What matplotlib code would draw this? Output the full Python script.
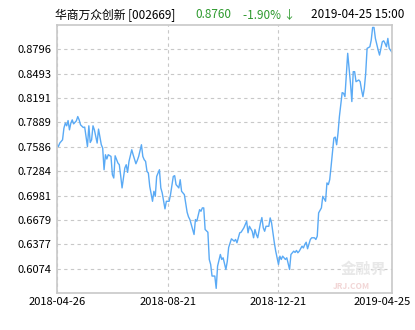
import matplotlib
matplotlib.use("Agg")
import matplotlib.pyplot as plt
import matplotlib.transforms as mtransforms

# trading-day index and fund NAV
day = [0, 1, 2, 4, 5, 6, 7, 8, 9, 10, 11, 12, 14, 15, 16, 17, 19, 20, 22, 23,
       24, 25, 26, 27, 29, 30, 32, 33, 34, 35, 36, 37, 39, 40, 41, 42, 44, 45, 46, 47,
       49, 50, 51, 52, 54, 55, 57, 58, 59, 61, 62, 63, 64, 65, 66, 67, 69, 70, 71, 72,
       74, 75, 76, 78, 79, 81, 82, 84, 85, 86, 88, 89, 90, 92, 94, 95, 96, 98, 99, 100,
       101, 103, 104, 105, 106, 107, 109, 110, 111, 112, 114, 115, 116, 118, 119, 120, 122, 123, 124, 126,
       128, 129, 130, 132, 133, 135, 137, 138, 139, 141, 142, 143, 144, 145, 147, 148, 149, 150, 151, 153,
       154, 155, 156, 157, 158, 160, 161, 162, 163, 165, 166, 168, 169, 171, 172, 173, 174, 175, 177, 178,
       179, 180, 181, 183, 184, 186, 187, 188, 189, 191, 192, 194, 195, 196, 197, 198, 200, 201, 202, 203,
       204, 206, 207, 208, 209, 210, 212, 213, 214, 215, 216, 218, 219, 220, 221, 222, 223, 224, 226, 227,
       228, 229, 230, 232, 233, 234, 235, 236, 237, 238, 239, 240, 242]
nav = [0.7612, 0.7590, 0.7633, 0.7673, 0.7818, 0.7880, 0.7847, 0.7912, 0.7797, 0.7880,
       0.7921, 0.7871, 0.7909, 0.7962, 0.7921, 0.7859, 0.7826, 0.7831, 0.7590, 0.7847,
       0.7640, 0.7673, 0.7847, 0.7797, 0.7633, 0.7806, 0.7612, 0.7571, 0.7302, 0.7488,
       0.7435, 0.7488, 0.7467, 0.7240, 0.7199, 0.7475, 0.7385, 0.7364, 0.7228, 0.7076,
       0.7323, 0.7364, 0.7269, 0.7405, 0.7550, 0.7488, 0.7376, 0.7417, 0.7467, 0.7612,
       0.7467, 0.7426, 0.7405, 0.7281, 0.7261, 0.7095, 0.6910, 0.7034, 0.6972, 0.7219,
       0.7302, 0.7076, 0.7014, 0.6816, 0.6910, 0.6910, 0.6993, 0.7219, 0.7228, 0.7117,
       0.7076, 0.7178, 0.7034, 0.6993, 0.6774, 0.6717, 0.6683, 0.6560, 0.6498, 0.6683,
       0.6662, 0.6807, 0.6786, 0.6828, 0.6828, 0.6560, 0.6526, 0.6188, 0.6126, 0.5982,
       0.5982, 0.5829, 0.6105, 0.6250, 0.6188, 0.6209, 0.6064, 0.6163, 0.6337, 0.6444,
       0.6415, 0.6436, 0.6395, 0.6519, 0.6526, 0.6581, 0.6662, 0.6519, 0.6600, 0.6538,
       0.6457, 0.6560, 0.6498, 0.6457, 0.6642, 0.6708, 0.6581, 0.6538, 0.6600, 0.6600,
       0.6704, 0.6642, 0.6519, 0.6395, 0.6291, 0.6126, 0.6229, 0.6188, 0.6229, 0.6188,
       0.6209, 0.6064, 0.6250, 0.6291, 0.6275, 0.6300, 0.6271, 0.6291, 0.6353, 0.6331,
       0.6374, 0.6402, 0.6321, 0.6436, 0.6457, 0.6457, 0.6436, 0.6477, 0.6766, 0.6828,
       0.6972, 0.6910, 0.7138, 0.7117, 0.7178, 0.7343, 0.7695, 0.7707, 0.7612, 0.7756,
       0.7962, 0.8259, 0.8251, 0.8209, 0.8478, 0.8747, 0.8375, 0.8148, 0.8519, 0.8519,
       0.8395, 0.8416, 0.8395, 0.8292, 0.8209, 0.8313, 0.8499, 0.8808, 0.8828, 0.8911,
       0.9068, 0.9068, 0.8932, 0.8787, 0.8725, 0.8808, 0.8890, 0.8902, 0.8870, 0.8828,
       0.8932, 0.8808, 0.8760]

y_min, y_max = 0.57716, 0.90984
y_ticks = [0.6074, 0.6377, 0.6679, 0.6981, 0.7284, 0.7586, 0.7889, 0.8191, 0.8493, 0.8796]
x_ticks = [0, 80, 160, 242]
x_labels = ["2018-04-26", "2018-08-21", "2018-12-21", "2019-04-25"]

plt.rcParams['font.family'] = ['Noto Sans CJK SC', 'DejaVu Sans']

fig = plt.figure(figsize=(4.15, 3.3), dpi=100)
ax = fig.add_axes([57 / 415, 1 - 293 / 330, 335 / 415, 268 / 330])

ax.plot(day, nav, color="#5aaaf5", linewidth=1.0)

ax.set_xlim(0, 242)
ax.set_ylim(y_min, y_max)
ax.set_yticks(y_ticks)
ax.set_yticklabels(["%.4f" % v for v in y_ticks])
ax.set_xticks(x_ticks)
ax.set_xticklabels(x_labels)
ax.tick_params(length=0, labelsize=8, pad=4, colors="black")
ax.tick_params(axis="x", pad=3)
ax.grid(True, color="#c8c8c8", linestyle=(0, (3, 3)), linewidth=0.8)
for s in ax.spines.values():
    s.set_color("#c8c8c8")
    s.set_linewidth(1.2)

# last date label sits right-aligned near the figure edge
last = ax.get_xticklabels()[-1]
last.set_horizontalalignment("right")
last.set_transform(last.get_transform() + mtransforms.ScaledTranslation(19 / 100, 0, fig.dpi_scale_trans))

# title line
fig.text(55 / 415, 1 - 15 / 330, "华商万众创新 [002669]", fontsize=8.5, va="center", ha="left")
fig.text(195 / 415, 1 - 15 / 330, "0.8760", fontsize=8.5, va="center", ha="left", color="#2e9a2e")
fig.text(243 / 415, 1 - 15 / 330, "-1.90% ↓", fontsize=8.5, va="center", ha="left", color="#2e9a2e")
fig.text(404 / 415, 1 - 15 / 330, "2019-04-25 15:00", fontsize=8.5, va="center", ha="right")

# watermark
ax.text(0.915, 0.09, "金融界", transform=ax.transAxes, fontsize=11, color="#e8e8e8",
        ha="center", va="center", fontweight="bold")
ax.text(0.88, 0.025, "JRJ.COM", transform=ax.transAxes, fontsize=6, color="#f2d6d6",
        ha="center", va="center", fontweight="bold", style="italic")

fig.savefig("out.png", dpi=100)
